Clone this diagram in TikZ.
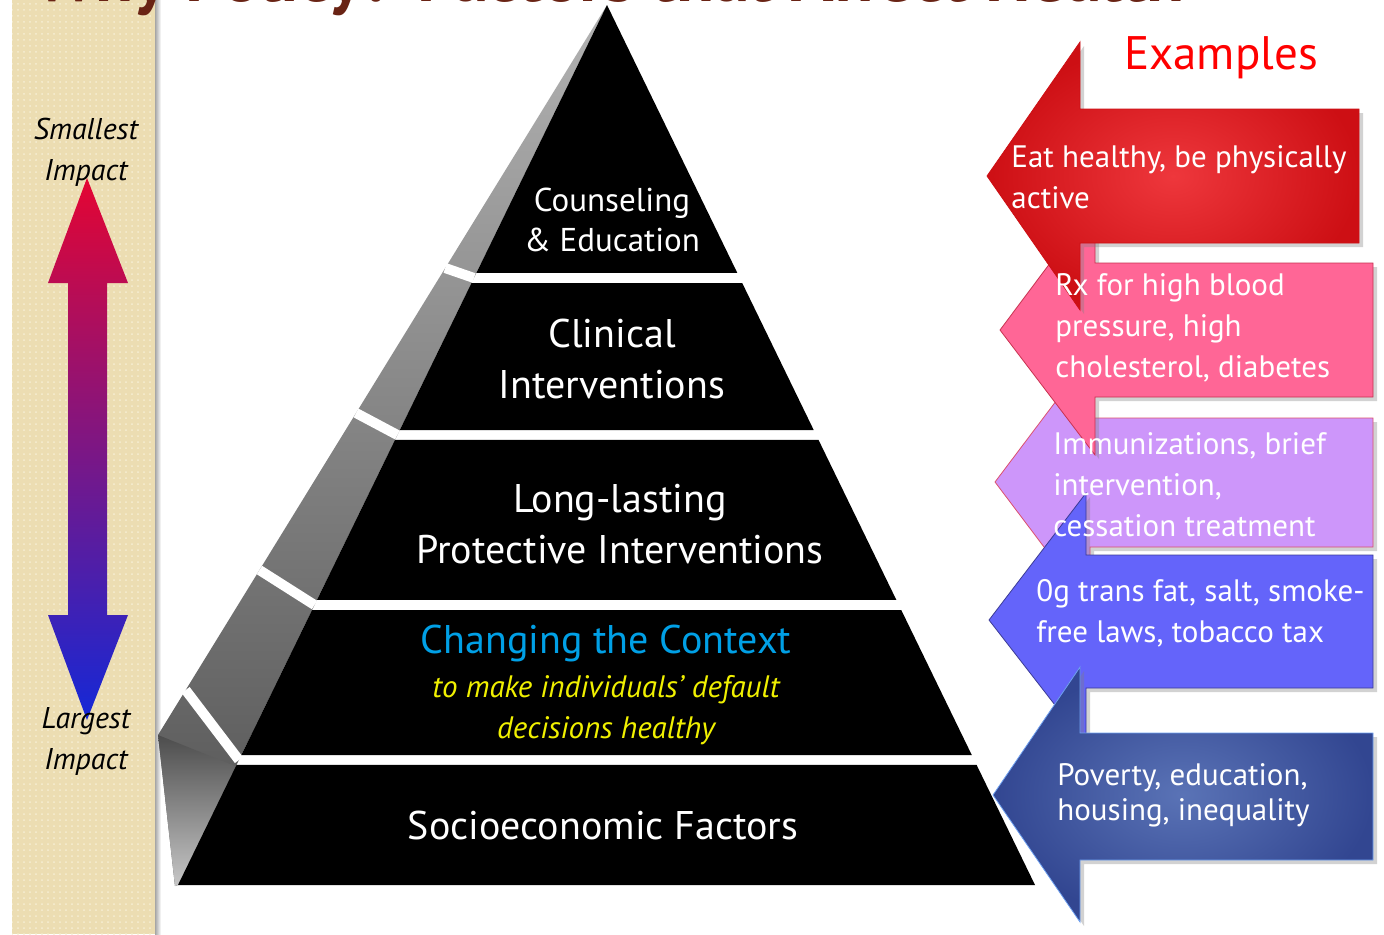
\documentclass[tikz,border=0pt]{standalone}
\usepackage{fontspec}
\setmainfont{PT Sans}
\usetikzlibrary{calc}
\usetikzlibrary{patterns}
\usetikzlibrary{shadows}
\definecolor{strip}{RGB}{236,221,178}
\definecolor{stripdot}{RGB}{246,238,212}
\definecolor{ttl}{RGB}{105,35,20}
\definecolor{ctx}{RGB}{0,160,230}
\definecolor{dflt}{RGB}{240,240,0}
\definecolor{imptop}{RGB}{228,5,50}
\definecolor{impmid}{RGB}{150,30,140}
\definecolor{impbot}{RGB}{20,40,215}
\definecolor{exred}{RGB}{255,0,0}
\definecolor{a1}{RGB}{238,55,60}
\definecolor{a1d}{RGB}{205,15,20}
\definecolor{a2}{RGB}{255,102,150}
\definecolor{a2l}{RGB}{200,50,80}
\definecolor{a3}{RGB}{205,150,250}
\definecolor{a3l}{RGB}{220,80,110}
\definecolor{a4}{RGB}{100,100,250}
\definecolor{a4l}{RGB}{60,60,150}
\definecolor{a5}{RGB}{90,115,182}
\definecolor{a5d}{RGB}{50,70,145}
\definecolor{a5l}{RGB}{110,160,240}

\begin{document}
\begin{tikzpicture} [
    x=0.5pt, y=-0.5pt,
    lvl/.style={
        font=\fontsize{20}{25.5}\selectfont,
        align=center, text=white
    },
    ex/.style={
        font=\fontsize{15.5}{20.5}\selectfont,
        align=left, text=white,
        anchor=west, inner sep=0pt
    },
    imp/.style={
        font=\fontsize{15}{20.5}\selectfont\itshape,
        align=center
    },
    arr/.style={
        drop shadow={shadow xshift=2pt,shadow yshift=-2pt,opacity=0.35}
    },
    gap/.style={white, line width=5pt}
]

\useasboundingbox (0,0) rectangle (1384,934);
\fill [white] (0,0) rectangle (1384,934);

% impact strip
\fill [strip] (12,0) rectangle (155,934);
\fill [pattern=dots, pattern color=stripdot] (12,0) rectangle (155,934);
\shade [left color=black!35, right color=white] (155,0) rectangle (161,934);

\node [font=\fontsize{35}{38}\selectfont\bfseries, text=ttl, anchor=base west,
    inner sep=0pt] (title) at (35,1) {Why Policy? Factors that Affect Health};

\shade [top color=imptop, middle color=impmid, bottom color=impbot]
    (87,178) -- (128,283) -- (107,283) -- (107,615) -- (128,615) -- (87,720)
    -- (48,615) -- (68,615) -- (68,283) -- (48,283) -- cycle;
\node [imp] (small) at (86,152) {Smallest\\Impact};
\node [imp] (large) at (86,741) {Largest\\Impact};

% pyramid
\coordinate (A)  at (607,5);
\coordinate (BL) at (178,885);
\coordinate (BR) at (1035,885);
\coordinate (S)  at (158,735);

\shade [top color=black!30, bottom color=black!68] (A) -- (S) -- (175,886) -- (BL) -- cycle;
\shade [top color=black!70, bottom color=black!22] (S) -- (240,768) -- (BL) -- (175,886) -- cycle;

\foreach \s/\f in {0.3603/0.3102, 0.5589/0.4886, 0.7740/0.6818, 0.9384/0.8580}
    \draw [gap] ($(A)!\s!(S)$) -- ($(A)!\f!(BL)$);

\foreach \a/\b in {0/0.3045, 0.3159/0.4830, 0.4943/0.6761, 0.6875/0.8523, 0.8636/1}
    \fill [black] ($(A)!\a!(BL)$) -- ($(A)!\b!(BL)$) -- ($(A)!\b!(BR)$) -- ($(A)!\a!(BR)$) -- cycle;

\node [lvl,font=\fontsize{16.5}{20}\selectfont] (l1) at (612,220) {Counseling\\\& Education};
\node [lvl] (l2) at (612,359) {Clinical\\Interventions};
\node [lvl] (l3) at (620,524) {Long-lasting\\Protective Interventions};
\node [lvl,text=ctx] (l4) at (606,643) {Changing the Context};
\node [lvl,text=dflt,font=\fontsize{15.5}{20.5}\selectfont\itshape] (l4b) at (606,710)
    {to make individuals’ default\\decisions healthy};
\node [lvl] (l5) at (603,825) {Socioeconomic Factors};

% examples
\node [font=\fontsize{23.5}{26}\selectfont, text=exred] (exs) at (1221,58) {Examples};

\path [arr, fill=a3, draw=a3l] (995,482) -- (1090,356) -- (1090,418) -- (1373,418)
    -- (1373,547) -- (1090,547) -- (1090,608) -- cycle;
\path [arr, fill=a2, draw=a2l] (1000,330) -- (1095,203) -- (1095,263) -- (1373,263)
    -- (1373,397) -- (1095,397) -- (1095,455) -- cycle;
\shade [arr, inner color=a1, outer color=a1d, draw=a1d] (987,176) -- (1080,42) -- (1080,109)
    -- (1359,109) -- (1359,243) -- (1080,243) -- (1080,310) -- cycle;
\path [arr, fill=a4, draw=a4l] (989,620) -- (1086,493) -- (1086,555) -- (1373,555)
    -- (1373,688) -- (1086,688) -- (1086,745) -- cycle;
\shade [arr, inner color=a5, outer color=a5d, draw=a5l] (993,795) -- (1080,667) -- (1080,733)
    -- (1373,733) -- (1373,860) -- (1080,860) -- (1080,922) -- cycle;

\node [ex] (e1) at (1011,177) {Eat healthy, be physically\\active};
\node [ex] (e2) at (1055,328) {Rx for high blood\\pressure, high\\cholesterol, diabetes};
\node [ex] (e3) at (1053,485) {Immunizations, brief\\intervention,\\cessation treatment};
\node [ex] (e4) at (1036,613) {0g trans fat, salt, smoke-\\free laws, tobacco tax};
\node [ex,font=\fontsize{15.5}{17.5}\selectfont] (e5) at (1057,795) {Poverty, education,\\housing, inequality};

\end{tikzpicture}
\end{document}
